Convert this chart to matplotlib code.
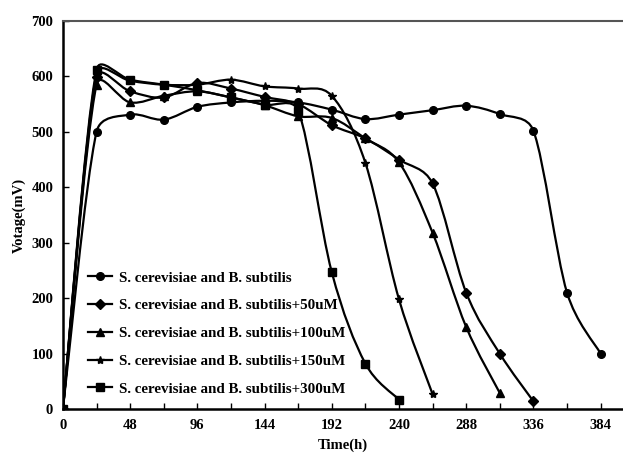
import matplotlib
matplotlib.use("Agg")
import matplotlib.pyplot as plt
import numpy as np
from matplotlib.path import Path
from matplotlib.patches import PathPatch
from matplotlib.lines import Line2D

plt.rcParams['font.family'] = ['Liberation Serif', 'DejaVu Serif']
plt.rcParams['font.weight'] = 'bold'

# time points (h)
hours = [0, 24, 48, 72, 96, 120, 144, 168, 192, 216, 240, 264, 288, 312, 336, 360, 384]

# voltage (mV) per condition
v_control = [0, 500, 531, 522, 545, 553, 556, 553, 540, 523, 531, 539, 547, 532, 502, 210, 100]
v_50 = [0, 598, 573, 562, 588, 578, 563, 550, 512, 488, 450, 407, 210, 100, 14]
v_100 = [0, 585, 553, 565, 573, 562, 548, 528, 525, 488, 445, 318, 148, 29]
v_150 = [0, 605, 592, 585, 585, 594, 582, 578, 565, 444, 198, 27]
v_300 = [0, 612, 594, 585, 575, 562, 549, 538, 247, 82, 17]

labels = ['S. cerevisiae and B. subtilis',
          'S. cerevisiae and B. subtilis+50uM',
          'S. cerevisiae and B. subtilis+100uM',
          'S. cerevisiae and B. subtilis+150uM',
          'S. cerevisiae and B. subtilis+300uM']
markers = ['o', 'D', '^', '*', 's']
msizes = [5.5, 5, 5.5, 6, 5.5]
series = [v_control, v_50, v_100, v_150, v_300]

# rough pixel size of one data unit, so the smoothing is done on screen shape
SX, SY = 1.398, 0.5536


def smooth_path(x, y):
    # smoothed line like Excel: Catmull-Rom Bezier, control arms capped by segment length
    pts = np.column_stack([np.asarray(x) * SX, np.asarray(y) * SY]).astype(float)
    n = len(pts)
    tang = [(pts[min(i + 1, n - 1)] - pts[max(i - 1, 0)]) / 6.0 for i in range(n)]

    def arm(t, seg):
        L = np.hypot(*t)
        lim = 0.45 * seg
        return t * (lim / L) if L > lim else t

    verts = [pts[0]]
    codes = [Path.MOVETO]
    for i in range(n - 1):
        p1, p2 = pts[i], pts[i + 1]
        seg = np.hypot(*(p2 - p1))
        c1 = p1 + arm(tang[i], seg)
        c2 = p2 - arm(tang[i + 1], seg)
        verts += [c1, c2, p2]
        codes += [Path.CURVE4] * 3
    verts = np.array(verts) / [SX, SY]
    return Path(verts, codes)


fig = plt.figure(figsize=(6.23, 4.55), dpi=100)
ax = fig.add_axes([0.101, 0.101, 0.899, 0.853])

handles = []
for vals, lab, mk, ms in zip(series, labels, markers, msizes):
    t = hours[:len(vals)]
    ax.add_patch(PathPatch(smooth_path(t, vals), facecolor='none',
                           edgecolor='black', lw=1.6, zorder=3))
    ax.plot(t, vals, linestyle='none', marker=mk, ms=ms, color='black', zorder=4)
    handles.append(Line2D([], [], color='black', lw=1.6, marker=mk, ms=ms))

ax.set_xlim(0, 400)
ax.set_ylim(0, 700)
ax.set_xticks(np.arange(0, 400, 24))
ax.set_xticklabels([str(v) if v % 48 == 0 else '' for v in range(0, 400, 24)])
ax.set_yticks(np.arange(0, 701, 100))
ax.tick_params(direction='in', length=4, width=1, labelsize=10.5, pad=7)

ax.spines['right'].set_visible(False)
ax.spines['left'].set_linewidth(1.8)
ax.spines['bottom'].set_linewidth(1.8)
ax.spines['top'].set_linewidth(1.5)
ax.spines['top'].set_color('#555555')

ax.set_xlabel('Time(h)', fontsize=10.5, fontweight='bold', labelpad=5)
ax.set_ylabel('Votage(mV)', fontsize=10.5, fontweight='bold', labelpad=4)

ax.legend(handles, labels, loc='lower left', bbox_to_anchor=(0.02, 0.0),
          frameon=False, handlelength=1.6, handletextpad=0.5, labelspacing=0.95,
          prop={'weight': 'bold', 'size': 10.8})

fig.savefig('out.png', dpi=100)
